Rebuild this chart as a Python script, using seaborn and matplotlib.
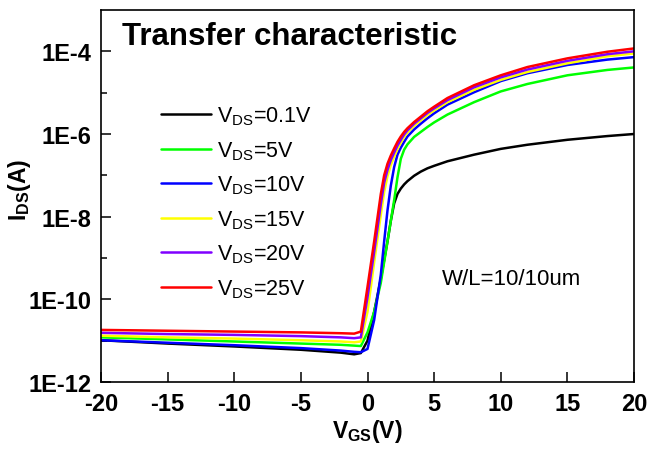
import numpy as np
import pandas as pd
import seaborn as sns
import matplotlib
matplotlib.use("Agg")
import matplotlib.pyplot as plt
from matplotlib.ticker import FixedLocator, FixedFormatter, NullFormatter

# ---- data (log10 of I_DS in A) ----
vgs = [-20, -15, -10, -5, -2, -1, -0.5, 0, 0.5, 1, 1.25, 1.5, 1.75, 2, 2.25, 2.5, 2.75, 3,
       3.5, 4, 4.5, 5, 6, 8, 10, 12, 15, 18, 20]
series_names = ["0.1V", "5V", "10V", "15V", "20V", "25V"]
log_id_01 = [-10.99, -11.07, -11.14, -11.22, -11.29, -11.33, -11.30, -11.0, -10.3, -9.5, -9.05, -8.6, -8.1, -7.68,
             -7.45, -7.32, -7.22, -7.14, -7.01, -6.91, -6.83, -6.77, -6.66, -6.5, -6.36, -6.26, -6.14, -6.05, -6.0]
log_id_5 = [-10.92, -10.97, -11.02, -11.07, -11.10, -11.12, -11.13, -10.8, -10.3, -9.6, -9.1, -8.6, -8.1, -7.6,
            -7.05, -6.6, -6.38, -6.25, -6.07, -5.95, -5.83, -5.72, -5.53, -5.23, -4.97, -4.79, -4.58, -4.45, -4.39]
log_id_10 = [-10.99, -11.05, -11.11, -11.18, -11.24, -11.27, -11.28, -11.2, -10.5, -9.4, -8.6, -7.85, -7.25, -6.8,
             -6.5, -6.33, -6.19, -6.06, -5.89, -5.75, -5.62, -5.50, -5.29, -4.99, -4.72, -4.53, -4.33, -4.20, -4.14]
log_id_15 = [-10.88, -10.92, -10.95, -10.99, -11.02, -11.04, -11.02, -10.3, -9.1, -7.95, -7.4, -7.02, -6.75, -6.55,
             -6.36, -6.21, -6.07, -5.96, -5.80, -5.67, -5.54, -5.43, -5.23, -4.93, -4.69, -4.50, -4.29, -4.12, -4.05]
log_id_20 = [-10.81, -10.84, -10.86, -10.89, -10.92, -10.94, -10.92, -9.95, -8.85, -7.7, -7.18, -6.87, -6.63, -6.45,
             -6.28, -6.14, -6.01, -5.91, -5.75, -5.62, -5.49, -5.38, -5.18, -4.87, -4.63, -4.44, -4.23, -4.07, -4.0]
log_id_25 = [-10.74, -10.76, -10.78, -10.80, -10.82, -10.83, -10.78, -9.7, -8.6, -7.45, -7.0, -6.72, -6.52, -6.35,
             -6.19, -6.06, -5.95, -5.86, -5.71, -5.58, -5.45, -5.34, -5.13, -4.82, -4.58, -4.38, -4.17, -4.01, -3.93]
colors = ["#000000", "#00ff00", "#0000ff", "#ffff00", "#8000ff", "#ff0000"]
ytick_vals = [1e-12, 1e-10, 1e-8, 1e-6, 1e-4]
ytick_labels = ["1E-12", "1E-10", "1E-8", "1E-6", "1E-4"]
yminor_vals = [1e-11, 1e-9, 1e-7, 1e-5]
xticks = [-20, -15, -10, -5, 0, 5, 10, 15, 20]

all_logs = [log_id_01, log_id_5, log_id_10, log_id_15, log_id_20, log_id_25]
frames = []
for name, lg in zip(series_names, all_logs):
    frames.append(pd.DataFrame({"VGS": vgs, "IDS": 10.0 ** np.array(lg), "VDS": name}))
df = pd.concat(frames, ignore_index=True)

sns.set_theme(style="ticks")
plt.rcParams["font.family"] = ["Liberation Sans", "DejaVu Sans"]
plt.rcParams["mathtext.fontset"] = "custom"
plt.rcParams["mathtext.rm"] = "Liberation Sans"
plt.rcParams["mathtext.it"] = "Liberation Sans:italic"
plt.rcParams["mathtext.bf"] = "Liberation Sans:bold"
for k in ["text.color", "axes.labelcolor", "xtick.color", "ytick.color", "axes.edgecolor"]:
    plt.rcParams[k] = "black"

fig = plt.figure(figsize=(6.48, 4.52), dpi=100)
ax = fig.add_axes([101/648, 1-383/452, 533/648, 372/452])

sns.lineplot(data=df, x="VGS", y="IDS", hue="VDS", hue_order=series_names,
             palette=colors, estimator=None, sort=False, linewidth=1.8,
             legend=False, ax=ax)

ax.set_yscale("log")
ax.set_xlim(-20, 20)
ax.set_ylim(1e-12, 1e-3)
ax.xaxis.set_major_locator(FixedLocator(xticks))
ax.set_xticklabels([str(v) for v in xticks])
ax.yaxis.set_major_locator(FixedLocator(ytick_vals))
ax.yaxis.set_major_formatter(FixedFormatter(ytick_labels))
ax.yaxis.set_minor_locator(FixedLocator(yminor_vals))
ax.yaxis.set_minor_formatter(NullFormatter())
ax.xaxis.set_minor_locator(FixedLocator([]))

ax.tick_params(axis="both", which="major", direction="in", length=7, width=1.1,
               labelsize=17, pad=7, colors="black")
ax.tick_params(axis="y", which="minor", direction="in", length=4, width=1.1)
for lab in ax.get_xticklabels() + ax.get_yticklabels():
    lab.set_fontweight("bold")
for sp in ax.spines.values():
    sp.set_visible(True)
    sp.set_linewidth(1.2)
    sp.set_color("black")

ax.set_xlabel(r"V$_{\mathregular{GS}}$(V)", fontsize=16.5, fontweight="bold")
ax.set_ylabel(r"I$_{\mathregular{DS}}$(A)", fontsize=16.5, fontweight="bold")
ax.xaxis.set_label_coords(0.5, -0.095)
ax.yaxis.set_label_coords(-0.128, 0.52)

ax.text(0.04, 0.93, "Transfer characteristic", transform=ax.transAxes,
        fontsize=22.5, fontweight="bold", ha="left", va="center")
ax.text(0.64, 0.277, "W/L=10/10um", transform=ax.transAxes,
        fontsize=16, ha="left", va="center")

labels = [r"V$_{\mathregular{DS}}$=" + s for s in series_names]
ax.legend(ax.lines[:6], labels, loc="upper left", bbox_to_anchor=(0.112, 0.745),
          frameon=False, fontsize=15.5, handlelength=2.35, handletextpad=0.25,
          labelspacing=0.55, borderpad=0, borderaxespad=0)

fig.savefig("out.png", dpi=100)
